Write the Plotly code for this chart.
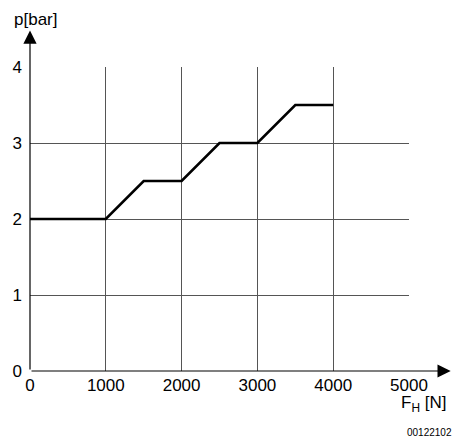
import plotly.graph_objects as go

# characteristic curve p over F_H
force_n = [0, 1000, 1500, 2000, 2500, 3000, 3500, 4000]
pressure_bar = [2, 2, 2.5, 2.5, 3, 3, 3.5, 3.5]

x_ticks = [0, 1000, 2000, 3000, 4000, 5000]
y_ticks = [0, 1, 2, 3, 4]

FONT = "Liberation Sans, Arial, sans-serif"

fig = go.Figure()
fig.add_trace(go.Scatter(x=force_n, y=pressure_bar, mode="lines",
                         line={"color": "#000000", "width": 2.6}, showlegend=False))

axis_style = dict(showgrid=True, gridcolor="#555555", gridwidth=0.8, automargin=False,
                  showline=False, zeroline=False, ticks="",
                  tickfont=dict(family=FONT, size=17, color="#000"))

fig.update_xaxes(range=[0, 5000], tickvals=x_ticks, ticklabelstandoff=2, **axis_style)
fig.update_yaxes(range=[0, 4], tickvals=y_ticks, ticklabelstandoff=7, **axis_style)

# axes with arrows
fig.add_annotation(x=5550, y=0, ax=0, ay=0, xref="x", yref="y", axref="x", ayref="y",
                   text="", showarrow=True, arrowhead=2, arrowsize=2.2, arrowwidth=1.2,
                   arrowcolor="#000")
fig.add_annotation(x=0, y=4.48, ax=0, ay=0, xref="x", yref="y", axref="x", ayref="y",
                   text="", showarrow=True, arrowhead=2, arrowsize=2.2, arrowwidth=1.2,
                   arrowcolor="#000")

# labels
fig.add_annotation(x=0, y=1, xref="paper", yref="paper", text="p[bar]", showarrow=False,
                   xanchor="left", yanchor="bottom", xshift=-18, yshift=36,
                   font=dict(family=FONT, size=17, color="#000"))
fig.add_annotation(x=1, y=0, xref="paper", yref="paper", text="F<sub>H</sub> [N]",
                   showarrow=False, xanchor="left", yanchor="top", xshift=-10, yshift=-20,
                   font=dict(family=FONT, size=17, color="#000"))
fig.add_annotation(x=1, y=0, xref="paper", yref="paper", text="00122102",
                   showarrow=False, xanchor="right", yanchor="top", xshift=45, yshift=-54,
                   font=dict(family=FONT, size=10, color="#000"))

fig.update_layout(width=455, height=440, plot_bgcolor="#fff", paper_bgcolor="#fff",
                  margin=dict(l=30, r=46, t=67, b=69))

# drop the default page margin so the figure fills the window exactly
fig.write_html("out.html", config={"displayModeBar": False},
               post_script="document.body.style.margin='0';document.body.style.overflow='hidden';")
